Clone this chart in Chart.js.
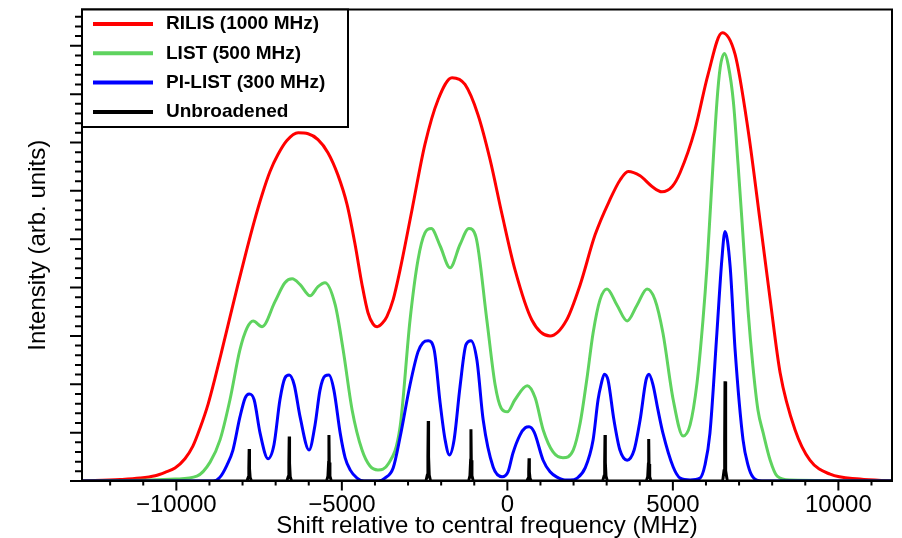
<!DOCTYPE html>
<html>
<head>
<meta charset="utf-8">
<script src="https://cdn.jsdelivr.net/npm/chart.js@4.4.1/dist/chart.umd.min.js"></script>
<style>
    html, body { margin: 0; padding: 0; background: #fff; }
</style>
</head>
<body>
<canvas id="spectrumChart" width="902" height="538"></canvas>
<script>
// Spectra: [shift in MHz, intensity in arb. units]
const rilis = [[-12850,0],[-11700,0.03],[-11100,0.06],[-10640,0.11],[-10340,0.18],[-10040,0.27],[-9740,0.46],[-9500,0.72],[-9280,1.10],[-9040,1.59],[-8830,2.13],[-8620,2.71],[-8380,3.39],[-8140,4.06],[-7890,4.74],[-7650,5.36],[-7410,5.92],[-7170,6.40],[-6930,6.75],[-6660,7.04],[-6320,7.20],[-6020,7.18],[-5720,7.06],[-5420,6.79],[-5120,6.33],[-4840,5.71],[-4600,4.89],[-4390,4.06],[-4210,3.48],[-4060,3.25],[-3930,3.19],[-3780,3.26],[-3640,3.40],[-3450,3.75],[-3240,4.37],[-2880,5.61],[-2490,6.96],[-2090,7.89],[-1670,8.34],[-1280,8.20],[-890,7.58],[-520,6.64],[-160,5.51],[230,4.37],[740,3.33],[1290,3.00],[1790,3.33],[2200,4.06],[2650,5.09],[3100,5.82],[3410,6.23],[3650,6.40],[4010,6.31],[4370,6.09],[4670,5.98],[4980,6.09],[5220,6.38],[5670,7.27],[6060,8.40],[6490,9.27],[6880,8.82],[7270,7.27],[7630,5.40],[7940,3.75],[8240,2.24],[8690,1.06],[9140,0.43],[9750,0.14],[10650,0.04],[11620,0]];

const list = [[-12850,0],[-10800,0.02],[-10040,0.04],[-9380,0.10],[-8980,0.39],[-8680,0.85],[-8380,1.68],[-8080,2.71],[-7860,3.17],[-7680,3.31],[-7410,3.19],[-7020,3.71],[-6720,4.10],[-6500,4.18],[-6260,4.06],[-5960,3.83],[-5720,4.02],[-5510,4.10],[-5200,3.64],[-4960,2.71],[-4690,1.47],[-4390,0.64],[-4150,0.31],[-3910,0.23],[-3600,0.35],[-3240,1.12],[-2940,3.33],[-2700,4.57],[-2490,5.13],[-2300,5.22],[-2030,4.86],[-1730,4.41],[-1430,4.89],[-1160,5.22],[-950,5.05],[-620,3.33],[-370,1.99],[-190,1.51],[0,1.43],[230,1.68],[600,1.97],[840,1.72],[1080,1.06],[1380,0.60],[1680,0.48],[1990,0.64],[2200,1.20],[2400,2.10],[2590,3.06],[2800,3.75],[3010,3.97],[3310,3.64],[3620,3.31],[3920,3.64],[4220,3.97],[4460,3.75],[4700,3.06],[5010,1.68],[5310,0.93],[5520,1.16],[5730,2.03],[5910,3.33],[6030,4.43],[6150,5.82],[6330,7.83],[6430,8.55],[6560,8.84],[6670,8.61],[6830,7.83],[6970,6.54],[7090,5.36],[7270,3.54],[7420,2.36],[7570,1.47],[7730,0.99],[7940,0.43],[8150,0.10],[8540,0.02],[11620,0]];

const piList = [[-12850,0],[-8890,0],[-8680,0.08],[-8470,0.33],[-8290,0.64],[-8080,1.32],[-7920,1.72],[-7800,1.80],[-7650,1.68],[-7470,0.99],[-7230,0.46],[-7050,0.75],[-6870,1.68],[-6720,2.13],[-6590,2.19],[-6440,1.99],[-6260,1.32],[-5990,0.64],[-5810,1.16],[-5660,1.88],[-5510,2.17],[-5390,2.19],[-5240,1.88],[-5050,0.99],[-4900,0.48],[-4750,0.23],[-4540,0.06],[-4330,0],[-3900,0],[-3700,0.06],[-3450,0.27],[-3240,0.91],[-2940,1.99],[-2700,2.67],[-2550,2.86],[-2390,2.90],[-2210,2.71],[-2030,1.61],[-1880,0.85],[-1750,0.54],[-1610,0.85],[-1430,1.95],[-1250,2.82],[-1100,2.90],[-920,2.50],[-730,1.26],[-430,0.29],[-160,0.09],[20,0.19],[170,0.58],[380,0.95],[540,1.10],[655,1.12],[810,1.01],[1080,0.43],[1290,0.19],[1500,0.08],[1740,0.02],[1900,0.02],[2110,0.06],[2350,0.27],[2590,0.85],[2740,1.68],[2830,1.99],[2930,2.21],[3040,2.09],[3220,1.26],[3400,0.64],[3620,0.43],[3830,0.64],[4010,1.26],[4190,2.09],[4280,2.21],[4400,1.99],[4550,1.47],[4700,0.99],[5010,0.29],[5220,0.06],[5520,0.02],[5820,0.06],[5970,0.33],[6120,0.99],[6330,3.06],[6480,4.58],[6575,5.16],[6730,4.44],[6880,2.71],[7120,0.85],[7270,0.33],[7420,0.08],[7690,0],[11620,0]];

const unbroadened = [[-12850,0],
    [-7870,0],[-7830,0.07],[-7810,0.26],[-7800,0.66],[-7790,0.26],[-7770,0.07],[-7730,0],
    [-6660,0],[-6620,0.09],[-6600,0.37],[-6590,0.92],[-6580,0.37],[-6560,0.09],[-6520,0],
    [-5460,0],[-5420,0.10],[-5400,0.38],[-5390,0.95],[-5380,0.38],[-5360,0.10],[-5320,0],
    [-2460,0],[-2420,0.12],[-2400,0.50],[-2390,1.24],[-2380,0.50],[-2360,0.12],[-2320,0],
    [-1170,0],[-1130,0.11],[-1110,0.43],[-1100,1.07],[-1090,0.43],[-1070,0.11],[-1030,0],
    [585,0],[625,0.05],[645,0.19],[655,0.47],[665,0.19],[685,0.05],[725,0],
    [2880,0],[2920,0.10],[2940,0.38],[2950,0.95],[2960,0.38],[2980,0.10],[3020,0],
    [4200,0],[4240,0.09],[4260,0.35],[4270,0.87],[4280,0.35],[4300,0.09],[4340,0],
    [6505,0],[6545,0.21],[6565,0.82],[6575,2.06],[6585,0.82],[6605,0.21],[6645,0],
    [11620,0]];

const seriesLabels = ['RILIS (1000 MHz)', 'LIST (500 MHz)', 'PI-LIST (300 MHz)', 'Unbroadened'];
const seriesColors = ['#ff0000', '#5fd35f', '#0000ff', '#000000'];
const xTickValues = [-12000, -11000, -10000, -9000, -8000, -7000, -6000, -5000, -4000, -3000, -2000, -1000,
    0, 1000, 2000, 3000, 4000, 5000, 6000, 7000, 8000, 9000, 10000, 11000];
const xLabelTicks = [-10000, -5000, 0, 5000, 10000];

const FONT = "'Liberation Sans', Arial, sans-serif";

function toPoints(pairs) {
    return pairs.map(([x, y]) => ({ x, y }));
}

// frame box plus outward tick marks (major ones longer)
const frameTicks = {
    id: 'frameTicks',
    afterDatasetsDraw(chart) {
        const { ctx, chartArea: a, scales } = chart;
        ctx.save();
        ctx.strokeStyle = '#000';
        ctx.lineWidth = 2;
        ctx.strokeRect(a.left, a.top, a.right - a.left, a.bottom - a.top);

        ctx.beginPath();
        scales.x.ticks.forEach((t) => {
            const px = scales.x.getPixelForValue(t.value);
            const major = xLabelTicks.includes(t.value);
            ctx.moveTo(px, a.bottom);
            ctx.lineTo(px, a.bottom + (major ? 9.5 : 4.5));
        });
        scales.y.ticks.forEach((t) => {
            const py = scales.y.getPixelForValue(t.value);
            const major = Math.abs(t.value - Math.round(t.value)) < 1e-6;
            ctx.moveTo(a.left, py);
            ctx.lineTo(a.left - (major ? 12 : 7), py);
        });
        ctx.stroke();
        ctx.restore();
    },
};

// boxed legend in the top-left corner of the plot
const legendBox = {
    id: 'legendBox',
    afterDraw(chart) {
        const { ctx, chartArea: a } = chart;
        ctx.save();
        ctx.fillStyle = '#fff';
        ctx.fillRect(a.left, a.top, 266, 117.5);
        ctx.strokeStyle = '#000';
        ctx.lineWidth = 2;
        ctx.strokeRect(a.left, a.top, 266, 117.5);

        ctx.font = `bold 19px ${FONT}`;
        ctx.textBaseline = 'middle';
        chart.data.datasets.forEach((ds, i) => {
            const y = a.top + 14.5 + i * 29.3;
            ctx.strokeStyle = ds.borderColor;
            ctx.lineWidth = 4;
            ctx.beginPath();
            ctx.moveTo(a.left + 11, y);
            ctx.lineTo(a.left + 71, y);
            ctx.stroke();
            ctx.fillStyle = '#000';
            ctx.fillText(ds.label, a.left + 84, y);
        });
        ctx.restore();
    },
};

const seriesData = [rilis, list, piList, unbroadened];

const datasets = seriesData.map((pairs, i) => ({
    label: seriesLabels[i],
    data: toPoints(pairs),
    borderColor: seriesColors[i],
    backgroundColor: seriesColors[i],
    borderWidth: 3,
    pointRadius: 0,
    fill: false,
    order: seriesData.length - 1 - i,
    cubicInterpolationMode: i < 3 ? 'monotone' : 'default',
    tension: i < 3 ? 0.4 : 0,
}));

const ctx = document.getElementById('spectrumChart').getContext('2d');
new Chart(ctx, {
    type: 'line',
    data: { datasets },
    options: {
        responsive: false,
        animation: false,
        layout: { padding: { top: 9.5, right: 10, left: 0, bottom: 0 } },
        plugins: {
            legend: { display: false },
            tooltip: { enabled: false },
        },
        scales: {
            x: {
                type: 'linear',
                min: -12850,
                max: 11620,
                grid: { display: false, drawTicks: false },
                border: { display: false },
                afterBuildTicks: (scale) => {
                    scale.ticks = xTickValues.map((value) => ({ value }));
                },
                ticks: {
                    autoSkip: false,
                    maxRotation: 0,
                    padding: 10,
                    color: '#000',
                    font: { family: FONT, size: 24 },
                    callback: (v) => (xLabelTicks.includes(v) ? String(v).replace('-', '\u2212') : ''),
                },
                title: {
                    display: true,
                    text: 'Shift relative to central frequency (MHz)',
                    color: '#000',
                    font: { family: FONT, size: 24, lineHeight: 1 },
                    padding: { top: 0, bottom: 0 },
                },
                afterFit: (scale) => { scale.height = 57; },
            },
            y: {
                type: 'linear',
                min: 0,
                max: 9.75,
                grid: { display: false, drawTicks: false },
                border: { display: false },
                ticks: { display: false, stepSize: 0.2, includeBounds: false },
                title: {
                    display: true,
                    text: 'Intensity (arb. units)',
                    color: '#000',
                    font: { family: FONT, size: 24 },
                    padding: { top: 24, bottom: 0 },
                },
                afterFit: (scale) => { scale.width = 82; },
            },
        },
    },
    plugins: [frameTicks, legendBox],
});
</script>
</body>
</html>
